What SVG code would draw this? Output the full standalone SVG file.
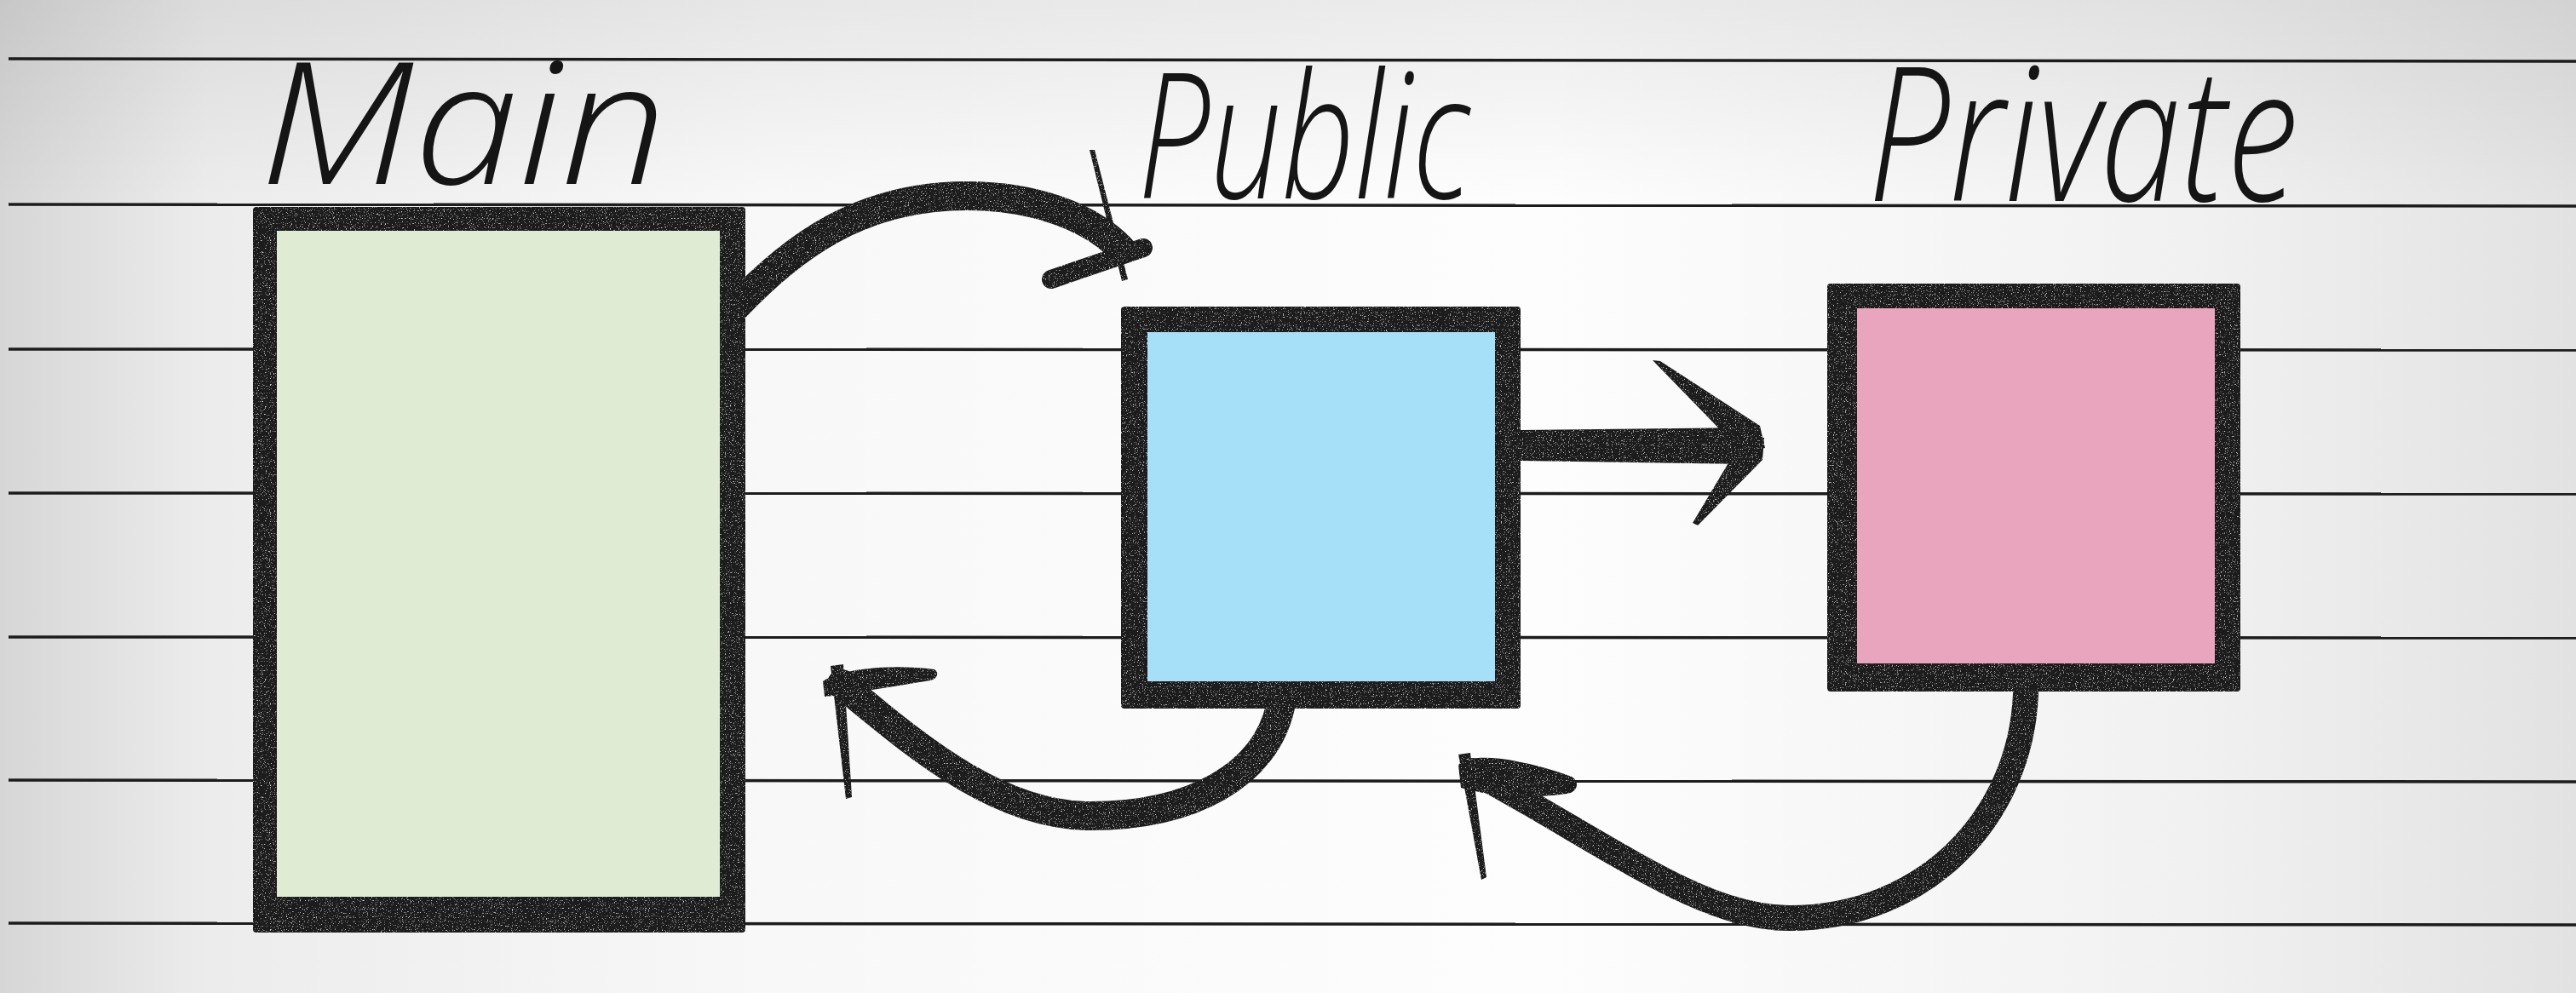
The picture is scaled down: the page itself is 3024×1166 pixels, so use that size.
<svg xmlns="http://www.w3.org/2000/svg" width="3024" height="1166" viewBox="0 0 3024 1166">
  <defs>
    <linearGradient id="paper" x1="0" y1="0" x2="1" y2="0">
      <stop offset="0" stop-color="#d6d6d6"/>
      <stop offset="0.08" stop-color="#ececec"/>
      <stop offset="0.3" stop-color="#f8f8f8"/>
      <stop offset="0.6" stop-color="#fdfdfd"/>
      <stop offset="0.85" stop-color="#f1f1f1"/>
      <stop offset="1" stop-color="#e2e2e2"/>
    </linearGradient>
    <linearGradient id="paperTop" x1="0" y1="0" x2="0" y2="1">
      <stop offset="0" stop-color="#000" stop-opacity="0.07"/>
      <stop offset="0.2" stop-color="#000" stop-opacity="0"/>
      <stop offset="1" stop-color="#000" stop-opacity="0"/>
    </linearGradient>
    <!-- marker grain: small light specks inside dark ink -->
    <filter id="grain" x="-5%" y="-5%" width="110%" height="110%">
      <feTurbulence type="fractalNoise" baseFrequency="0.8" numOctaves="2" seed="3" result="noise"/>
      <feColorMatrix in="noise" type="matrix" values="0 0 0 0 1  0 0 0 0 1  0 0 0 0 1  3.2 0 0 0 -2.0" result="specks"/>
      <feComposite in="specks" in2="SourceAlpha" operator="in" result="inked"/>
      <feMerge>
        <feMergeNode in="SourceGraphic"/>
        <feMergeNode in="inked"/>
      </feMerge>
    </filter>
    <style>
      .rule { stroke: #1c1c1c; stroke-width: 3.5; fill: none; }
      .ink { fill: #1b1b1b; }
      .frame { fill: #1d1d1d; filter: url(#grain); }
      .wire { fill: none; stroke: #1b1b1b; stroke-linecap: round; stroke-linejoin: round; }
      .label { font-family: "Open Sans", "Liberation Sans", sans-serif; font-weight: 300; font-style: italic; fill: #151515; }
    </style>
  </defs>

  <!-- paper -->
  <rect x="0" y="0" width="3024" height="1166" fill="url(#paper)"/>
  <rect x="0" y="0" width="3024" height="1166" fill="url(#paperTop)"/>

  <!-- ruled lines -->
  <g id="rules">
    <path class="rule" d="M10 69 L3024 72"/>
    <path class="rule" d="M10 240 L3024 242"/>
    <path class="rule" d="M10 410 L3024 411"/>
    <path class="rule" d="M10 579 L3024 580"/>
    <path class="rule" d="M10 748 L3024 749"/>
    <path class="rule" d="M10 916 L3024 918"/>
    <path class="rule" d="M10 1084 L3024 1086"/>
  </g>

  <!-- titles -->
  <g id="titles">
    <text class="label" x="305" y="216" font-size="200" textLength="478" lengthAdjust="spacingAndGlyphs">Main</text>
    <text class="label" x="1336" y="233" font-size="205" textLength="390" lengthAdjust="spacingAndGlyphs">Public</text>
    <text class="label" x="2193" y="236" font-size="220" textLength="505" lengthAdjust="spacingAndGlyphs">Private</text>
  </g>

  <!-- nodes -->
  <g id="main">
    <rect class="frame" x="297" y="243" width="578" height="852" rx="4"/>
    <rect x="325" y="271" width="520" height="782" fill="#dfebd3"/>
  </g>
  <g id="public">
    <rect class="frame" x="1316" y="360" width="469" height="472" rx="4"/>
    <rect x="1347" y="390" width="408" height="410" fill="#a6dff8"/>
  </g>
  <g id="private">
    <rect class="frame" x="2145" y="333" width="485" height="479" rx="4"/>
    <rect x="2180" y="362" width="420" height="417" fill="#e8a5bd"/>
  </g>

  <!-- connectors -->
  <g id="connectors" filter="url(#grain)">
    <!-- main to public -->
    <path class="wire" stroke-width="34" d="M862 362 C930 290 1010 230 1135 230 C1215 230 1280 255 1316 292"/>
    <path class="ink" d="M1279 176 L1285 176 L1324 328 L1317 330 Z"/>
    <path class="wire" stroke-width="22" d="M1234 328 L1342 291"/>

    <!-- public to private -->
    <path class="ink" d="M1785 505 L2050 502 L2052 545 L1785 541 Z"/>
    <path class="ink" d="M1940 423 L1949 424 L2066 500 L2072 526 L2044 530 Z"/>
    <path class="ink" d="M2046 515 L2071 514 L2069 540 L1993 617 L1987 614 Z"/>

    <!-- public to main -->
    <path class="wire" stroke-width="34" d="M1503 830 C1485 910 1400 958 1280 958 C1180 958 1090 890 988 803"/>
    <path class="ink" d="M975 782 L990 780 L1000 936 L993 938 Z"/>
    <path class="ink" d="M966 800 C990 784 1050 780 1097 786 C1103 790 1100 797 1092 799 C1050 806 1000 814 968 818 Z"/>

    <!-- private to public -->
    <path class="wire" stroke-width="30" d="M2378 815 C2372 960 2260 1078 2100 1078 C2000 1078 1900 1000 1728 905"/>
    <path class="ink" d="M1712 886 L1726 884 L1745 1030 L1739 1033 Z"/>
    <path class="ink" d="M1712 898 C1730 880 1800 895 1845 912 C1855 918 1852 930 1840 932 C1800 938 1750 935 1715 925 Z"/>
  </g>
</svg>
